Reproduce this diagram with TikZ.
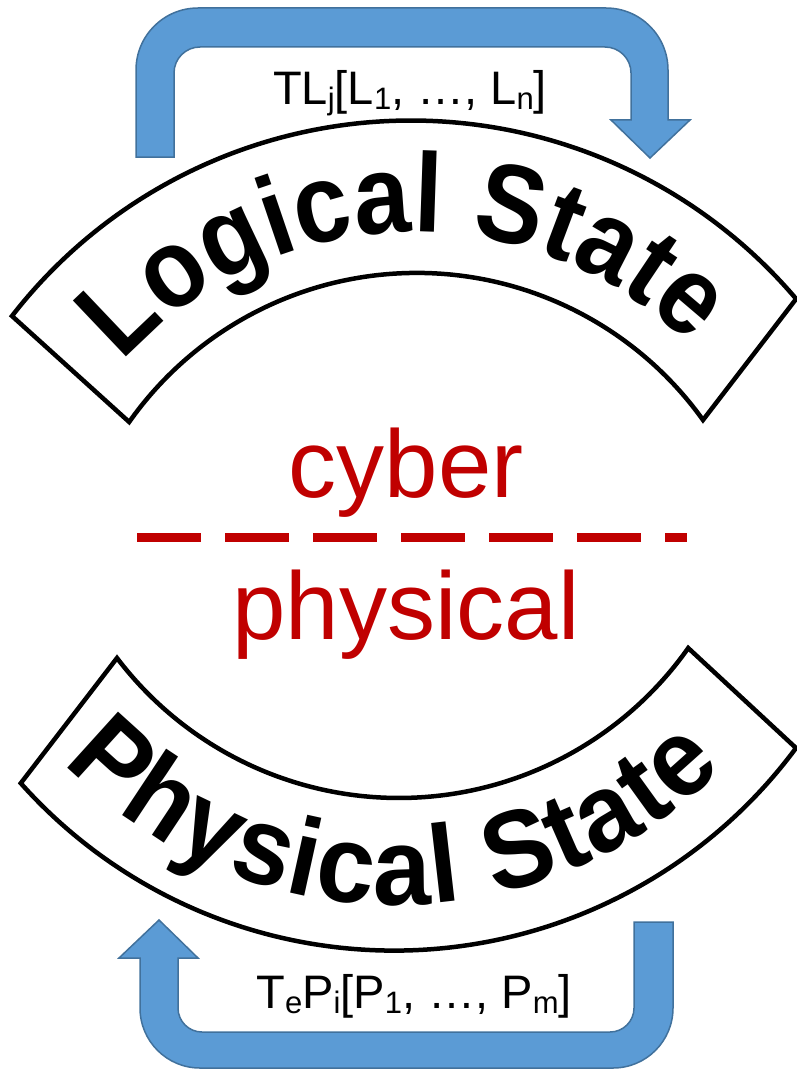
\documentclass[tikz,border=0pt]{standalone}
\usepackage{fontspec}
\setmainfont{Liberation Sans}
\newfontfamily\bandfontL{Liberation Sans}[FakeStretch=0.9]
\newfontfamily\bandfontP{Liberation Sans}[FakeStretch=0.95]
\usetikzlibrary{decorations.text}
\definecolor{arrowblue}{HTML}{5B9BD5}
\definecolor{arrowedge}{HTML}{41719C}
\definecolor{cyberred}{HTML}{C00000}
\newcommand\sbsc[1]{\raisebox{-5pt}{\fontsize{31}{31}\selectfont #1}}
\begin{document}
\begin{tikzpicture}[x=1pt,y=-1pt,
  stateband/.style={draw=black, line width=4.5pt, fill=white, line join=miter},
  uarrow/.style={fill=arrowblue, draw=arrowedge, line width=1.5pt},
  formula/.style={font=\fontsize{47}{47}\selectfont, anchor=base, inner sep=0pt},
  realm/.style={font=\fontsize{96}{96}\selectfont, text=cyberred, anchor=base, inner sep=0pt},
  divider/.style={draw=cyberred, line width=9pt, dash pattern=on 64pt off 24pt}]
\useasboundingbox (0,0) rectangle (797,1070);
% top U-turn arrow
\draw[uarrow] (136,157) -- (136,70) arc[start angle=180,end angle=270,radius=62]
  -- (606,8) arc[start angle=270,end angle=360,radius=62]
  -- (668,120) -- (690,120) -- (650,158) -- (611,120) -- (631,120)
  -- (631,73) arc[start angle=0,end angle=-90,radius=26]
  -- (200,47) arc[start angle=-90,end angle=-180,radius=26]
  -- (174,157) -- cycle;
% bottom U-turn arrow
\draw[uarrow] (634,922) -- (634,1008) arc[start angle=0,end angle=90,radius=24]
  -- (202,1032) arc[start angle=90,end angle=180,radius=24]
  -- (178,958) -- (198,958) -- (159,920) -- (119,958) -- (140,958)
  -- (140,1008) arc[start angle=180,end angle=90,radius=60]
  -- (613,1068) arc[start angle=90,end angle=0,radius=60]
  -- (673,922) -- cycle;
% logical band
\draw[stateband] (12,316) arc[start angle=-142.2,end angle=-40.3,radius=505]
  -- (703,420) arc[start angle=-35.6,end angle=-144.8,radius=352] -- cycle;
\path[decorate, decoration={text along path, text align={fit to path},
  text={|\fontsize{112}{112}\bandfontL\bfseries|Logical State}}]
  (122.0,362.0) arc[start angle=-138,end angle=-45.5,radius=393];
% physical band
\draw[stateband] (117,658) arc[start angle=142.8,end angle=35.2,radius=354]
  -- (796,748) arc[start angle=36.5,end angle=138.3,radius=500] -- cycle;
\path[decorate, decoration={text along path, text align={fit to path},
  text={|\fontsize{110}{110}\bandfontP\bfseries|Physical State}}]
  (63.8,762.3) arc[start angle=136.5,end angle=44.5,radius=458];
% labels
\node[formula] (tl) at (410,105) {TL\sbsc{j}[L\sbsc{1}, …, L\sbsc{n}]};
\node[formula] (tp) at (414,1008) {T\sbsc{e}P\sbsc{i}[P\sbsc{1}, …, P\sbsc{m}]};
\node[realm] (cy) at (406,497) {cyber};
\node[realm] (ph) at (406,639) {physical};
\coordinate (dL) at (137,537);
\coordinate (dR) at (687,537);
\draw[divider] (dL) -- (dR);
\end{tikzpicture}
\end{document}
